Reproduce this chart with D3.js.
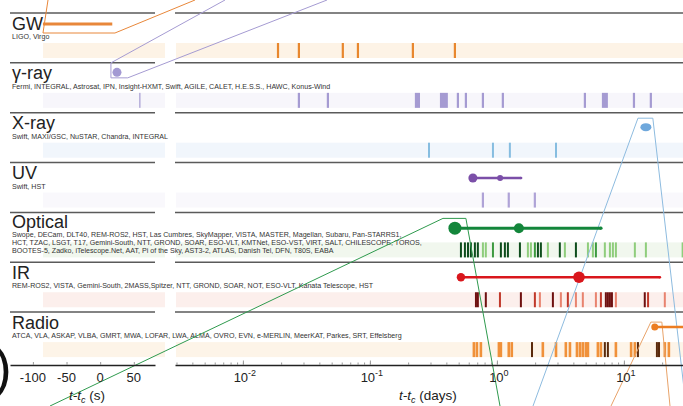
<!DOCTYPE html>
<html>
<head>
<meta charset="utf-8">
<script src="https://cdn.jsdelivr.net/npm/d3@7"></script>
<style>
  body { margin: 0; background: #fff; }
  svg { display: block; font-family: "Liberation Sans", Arial, Helvetica, sans-serif; }
</style>
</head>
<body>
<svg id="chart" width="683" height="406"></svg>
<script>
// rows, top to bottom
const rowNames = ['GW', 'γ-ray', 'X-ray', 'UV', 'Optical', 'IR', 'Radio'];
const rowInstruments = [
  ['LIGO, Virgo'],
  ['Fermi, INTEGRAL, Astrosat, IPN, Insight-HXMT, Swift, AGILE, CALET, H.E.S.S., HAWC, Konus-Wind'],
  ['Swift, MAXI/GSC, NuSTAR, Chandra, INTEGRAL'],
  ['Swift, HST'],
  ['Swope, DECam, DLT40, REM-ROS2, HST, Las Cumbres, SkyMapper, VISTA, MASTER, Magellan, Subaru, Pan-STARRS1,',
   'HCT, TZAC, LSGT, T17, Gemini-South, NTT, GROND, SOAR, ESO-VLT, KMTNet, ESO-VST, VIRT, SALT, CHILESCOPE, TOROS,',
   'BOOTES-5, Zadko, iTelescope.Net, AAT, Pi of the Sky, AST3-2, ATLAS, Danish Tel, DFN, T80S, EABA'],
  ['REM-ROS2, VISTA, Gemini-South, 2MASS,Spitzer, NTT, GROND, SOAR, NOT, ESO-VLT, Kanata Telescope, HST'],
  ['ATCA, VLA, ASKAP, VLBA, GMRT, MWA, LOFAR, LWA, ALMA, OVRO, EVN, e-MERLIN, MeerKAT, Parkes, SRT, Effelsberg']
];
const bandColors = ['#fdf3e6', '#f7f6fb', '#f1f6fc', '#f9f8fc', '#f1f7ee', '#fcefec', '#fdf4e8'];

// axis ticks
const secTicks = [-100, -50, 0, 50];
const dayTicks = [0.01, 0.1, 1, 10];
const dayTickExp = ['-2', '-1', '0', '1'];

// observation epochs (days after merger unless noted)
const gwObs = [0.0189, 0.0276, 0.0612, 0.0805, 0.218, 0.467];
const gammaObsSec = [59];
const gammaObs = [0.0276, 0.0467, 0.493, 0.570, 0.776, 1.114, 4.93, 12.0, 16.3];
const gammaSpans = [[0.226, 0.248], [0.356, 0.411], [6.71, 7.48]];
const xrayObs = [0.292, 0.931, 1.265, 2.92];
const uvObs = [0.776, 1.24, 1.99];
const opticalDark = [0.521, 0.560, 0.592, 0.624, 0.671, 0.708, 1.075, 1.156, 1.221, 1.518, 2.104, 2.220, 3.13, 4.19];
const opticalMid = [0.931, 1.991, 6.02];
const opticalLight = [0.776, 0.818, 1.754, 1.853, 2.52, 3.43, 5.21, 5.70, 7.08, 7.76, 8.19, 8.65, 12.2, 14.9, 29.0];
const irDark = [0.684, 0.708, 0.818, 1.545, 2.76, 7.21, 7.48, 7.76, 8.05, 14.6];
const irMid = [1.057, 1.991, 3.62, 6.59, 15.5];
const irLight = [2.18, 3.19, 4.19, 4.75, 6.02, 8.65, 21.0];
const radioObs = [0.659, 0.696, 0.748, 1.037, 1.075, 1.24, 1.31, 2.30, 2.92, 3.49, 3.76, 4.27, 4.51, 4.75, 5.02, 5.21, 6.24, 6.59, 8.65, 11.4, 12.2, 21.0, 22.6];
const radioDark = [1.89, 7.08, 7.48, 12.9, 18.2, 18.9];

// detections: [start, marked epochs..., end]
const gwSignalSec = [-85, 18];
const gammaDetectSec = [25];
const uvDetect = [0.647, 1.06, 1.55];
const opticalDetect = [0.467, 1.49, 6.6];
const irDetect = [0.521, 4.43, 19.2];
const radioDetect = [17.5, 40];
const xrayDetect = [14.9];

const svg = d3.select('#chart');
const W = 683, H = 406;
svg.append('rect').attr('width', W).attr('height', H).attr('fill', '#fff');

const xSec = d3.scaleLinear().domain([-134, 81.5]).range([10, 155]);
const xDay = d3.scaleLog().domain([0.00292, 29.2]).range([175, 683]);
const rowTop = d3.range(rowNames.length).map(i => 13 + i * 49.85);
const axisY = 365;
const bandTop = i => rowTop[i] + 30;
const bandH = 15;

// background bands
rowNames.forEach((n, i) => {
  svg.append('rect').attr('x', 43).attr('y', bandTop(i)).attr('width', 122).attr('height', bandH).attr('fill', bandColors[i]);
  svg.append('rect').attr('x', 176).attr('y', bandTop(i)).attr('width', W - 176).attr('height', bandH).attr('fill', bandColors[i]);
});

// row separators
rowNames.forEach((n, i) => {
  [[10, 155], [175, W]].forEach(([a, b]) => {
    svg.append('line').attr('x1', a).attr('x2', b).attr('y1', rowTop[i]).attr('y2', rowTop[i])
      .attr('stroke', '#5a5a5a').attr('stroke-width', 1.5);
  });
});

// row titles
const label = svg.append('g');
rowNames.forEach((n, i) => {
  const lines = rowInstruments[i];
  label.append('text').attr('x', 12).attr('y', rowTop[i] + (lines.length > 1 ? 16 : 16.5))
    .attr('font-size', 18).attr('fill', '#222').text(n);
  const y0 = lines.length > 1 ? rowTop[i] + 25 : rowTop[i] + 26;
  lines.forEach((t, j) => {
    label.append('text').attr('x', 12).attr('y', y0 + j * 7.6)
      .attr('font-size', 7.1).attr('fill', '#333').text(t);
  });
});

// observation ticks
const drawTicks = (row, values, color, w = 2, scale = xDay) => {
  svg.append('g').selectAll('rect').data(values).enter().append('rect')
    .attr('x', d => scale(d) - w / 2).attr('y', bandTop(row))
    .attr('width', w).attr('height', bandH).attr('fill', color);
};
const drawSpans = (row, spans, color) => {
  svg.append('g').selectAll('rect').data(spans).enter().append('rect')
    .attr('x', d => xDay(d[0])).attr('y', bandTop(row))
    .attr('width', d => xDay(d[1]) - xDay(d[0])).attr('height', bandH).attr('fill', color);
};
drawTicks(0, gwObs, '#e8872e', 2.2);
drawTicks(1, gammaObsSec, '#a59bd2', 1.2, xSec);
drawTicks(1, gammaObs, '#a59bd2', 2.2);
drawSpans(1, gammaSpans, '#a59bd2');
drawTicks(2, xrayObs, '#86bde0', 2);
drawTicks(3, uvObs, '#afa3d7', 2.2);
drawTicks(4, opticalLight, '#8fcd7c', 2);
drawTicks(4, opticalMid, '#3d9a40', 2);
drawTicks(4, opticalDark, '#0e4d1d', 2);
drawTicks(5, irLight, '#e8836f', 2);
drawTicks(5, irMid, '#c0392b', 2);
drawTicks(5, irDark, '#6e1010', 2);
drawTicks(6, radioObs, '#f0913a', 2.6);
drawTicks(6, radioDark, '#5a2a0c', 2);

// zoom connectors to insets outside the frame
const connectors = [
  { color: '#e8873a', pts: [[48, 0], [xSec(-85), 33], [xSec(22), 33], [195, 0]] },
  { color: '#a59bd2', pts: [[225, 0], [xSec(16), rowTop[1]], [xSec(16), rowTop[1] + 15], [xSec(41), rowTop[1] + 15], [327, 0]] },
  { color: '#8dbbdf', pts: [[533, H], [xDay(12.9), rowTop[2] + 5.5], [xDay(16.9), rowTop[2] + 5.5], [686, H]] },
  { color: '#2f9a4e', pts: [[50, H], [xDay(0.376), rowTop[4] + 6], [xDay(0.570), rowTop[4] + 6], [500, H]] },
  { color: '#e8a36a', pts: [[611, H], [xDay(16.3), rowTop[6] + 10], [xDay(19.9), rowTop[6] + 10], [670, H]] }
];
connectors.forEach(c => {
  svg.append('path').attr('d', d3.line()(c.pts)).attr('fill', 'none')
    .attr('stroke', c.color).attr('stroke-width', 1);
});

// detections
svg.append('line').attr('x1', xSec(gwSignalSec[0])).attr('x2', xSec(gwSignalSec[1]))
  .attr('y1', 24).attr('y2', 24).attr('stroke', '#e8873a').attr('stroke-width', 3);
svg.append('circle').attr('cx', xSec(gammaDetectSec[0])).attr('cy', rowTop[1] + 9.5).attr('r', 4.5).attr('fill', '#a399d3');
svg.append('ellipse').attr('cx', xDay(xrayDetect[0])).attr('cy', rowTop[2] + 14.5).attr('rx', 5.5).attr('ry', 4).attr('fill', '#6fa8dc');

const drawDetect = (row, vals, color, sw, radii, dy) => {
  const y = rowTop[row] + dy;
  svg.append('line').attr('x1', xDay(vals[0])).attr('x2', xDay(vals[vals.length - 1]))
    .attr('y1', y).attr('y2', y).attr('stroke', color).attr('stroke-width', sw);
  svg.append('g').selectAll('circle').data(vals).enter().append('circle')
    .attr('cx', d => xDay(d)).attr('cy', y).attr('r', (d, k) => radii[k]).attr('fill', color);
};
drawDetect(3, uvDetect, '#7b4fa8', 2.5, [4.5, 3, 1.3], 15.5);
drawDetect(4, opticalDetect, '#13863b', 3, [6.5, 5, 1.6], 15.8);
drawDetect(5, irDetect, '#d9161c', 2.5, [4.2, 5.8, 1.3], 15);
drawDetect(6, radioDetect, '#ec7d22', 2.5, [3.5, 0], 15);

// axes
const axisSec = d3.axisBottom(xSec).tickValues(secTicks).tickSize(-3).tickSizeOuter(0).tickFormat('');
const axisDayMinor = d3.axisBottom(xDay).tickValues(xDay.ticks()).tickSize(-2.5).tickSizeOuter(0).tickFormat('');
const gSec = svg.append('g').attr('transform', `translate(0,${axisY})`).call(axisSec);
const gDay = svg.append('g').attr('transform', `translate(0,${axisY})`).call(axisDayMinor);
svg.append('g').attr('transform', `translate(0,${axisY})`)
  .call(d3.axisBottom(xDay).tickValues(dayTicks).tickSize(-4.5).tickSizeOuter(0).tickFormat(''))
  .select('.domain').remove();
[gSec, gDay].forEach(g => {
  g.select('.domain').attr('stroke', '#222').attr('stroke-width', 1.5);
});
svg.selectAll('.tick line').attr('stroke', '#999');

// tick labels
svg.append('g').selectAll('text').data(secTicks).enter().append('text')
  .attr('x', d => xSec(d)).attr('y', 382).attr('text-anchor', 'middle')
  .attr('font-size', 13).attr('fill', '#222').text(d => d);
const dl = svg.append('g').selectAll('text').data(dayTicks).enter().append('text')
  .attr('x', d => xDay(d) + 2).attr('y', 382).attr('text-anchor', 'middle')
  .attr('font-size', 13).attr('fill', '#222');
dl.append('tspan').text('10');
dl.append('tspan').attr('dy', -6).attr('font-size', 9).text((d, i) => dayTickExp[i]);

// axis titles
const axisTitle = (x, unit) => {
  const t = svg.append('text').attr('x', x).attr('y', 400).attr('text-anchor', 'middle')
    .attr('font-size', 13.5).attr('fill', '#222');
  t.append('tspan').attr('font-style', 'italic').text('t-t');
  t.append('tspan').attr('font-style', 'italic').attr('font-size', 9).attr('dy', 2.5).text('c');
  t.append('tspan').attr('dy', -2.5).text(' (' + unit + ')');
};
axisTitle(87, 's');
axisTitle(428, 'days');

// panel label fragment at the left edge
svg.append('text').attr('x', -6).attr('y', 386).attr('font-size', 53).attr('fill', '#111').text(')');
</script>
</body>
</html>
